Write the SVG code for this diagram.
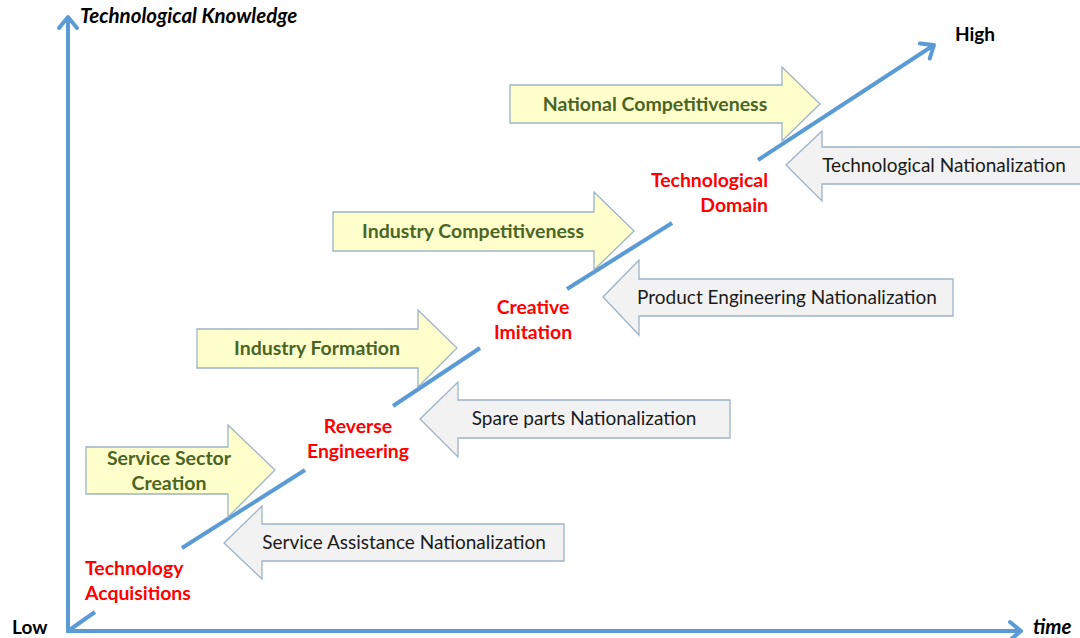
<svg xmlns="http://www.w3.org/2000/svg" width="1080" height="638" viewBox="0 0 1080 638">
<style>
.ax{stroke:#5B9BD5;stroke-width:4;fill:none;stroke-linecap:butt}
.yel{fill:#FFFFCC;stroke:#9DB2C9;stroke-width:1.3}
.gry{fill:#F2F2F2;stroke:#9DB2C9;stroke-width:1.3}
.g{font-family:Lato,"Liberation Sans",sans-serif;font-weight:bold;font-size:19.5px;fill:#4A6524;text-anchor:middle}
.k{font-family:Lato,"Liberation Sans",sans-serif;font-size:19px;fill:#1a1a1a;text-anchor:middle}
.r{font-family:Lato,"Liberation Sans",sans-serif;font-weight:bold;font-size:19.4px;fill:#FF0000}
.b{font-family:Lato,"Liberation Sans",sans-serif;font-weight:bold;font-size:19px;fill:#000}
.bi{font-family:Lato,"Liberation Sans",sans-serif;font-weight:bold;font-style:italic;font-size:20.5px;fill:#000}
</style>
<defs>
<marker id="ah" markerUnits="userSpaceOnUse" markerWidth="30" markerHeight="30" refX="0" refY="0" viewBox="-16 -15 20 30" orient="auto" overflow="visible">
<path d="M-11,-9 L0,0 L-11,9" fill="none" stroke="#5B9BD5" stroke-width="4" stroke-linecap="round" stroke-linejoin="round"/>
</marker>
</defs>
<g id="connectors">
<line class="ax" x1="68" y1="633" x2="68" y2="17" marker-end="url(#ah)"/>
<line class="ax" x1="66" y1="631" x2="1021" y2="631" marker-end="url(#ah)"/>
<line class="ax" x1="68" y1="631" x2="95" y2="612"/>
<line class="ax" x1="182" y1="548" x2="305" y2="470"/>
<line class="ax" x1="393" y1="406" x2="480" y2="348"/>
<line class="ax" x1="567" y1="289" x2="672" y2="223"/>
<line class="ax" x1="758" y1="160" x2="934" y2="45" marker-end="url(#ah)"/>
</g>
<g id="national-competitiveness">
<polygon class="yel" points="510,85 782,85 782,67 820,104 782,141 782,123 510,123"/>
<text class="g" x="655" y="111">National Competitiveness</text>
</g>
<g id="industry-competitiveness">
<polygon class="yel" points="333,212 594,212 594,192 634,231 594,270 594,251 333,251"/>
<text class="g" x="473" y="238">Industry Competitiveness</text>
</g>
<g id="industry-formation">
<polygon class="yel" points="197,329 418,329 418,310 457,348 418,387 418,368 197,368"/>
<text class="g" x="317" y="355">Industry Formation</text>
</g>
<g id="service-sector-creation">
<polygon class="yel" points="86,447 228,447 228,425 275,470 228,517 228,494 86,494"/>
<text class="g" x="169" y="465">Service Sector</text>
<text class="g" x="169" y="490">Creation</text>
</g>
<g id="technological-nationalization">
<polygon class="gry" points="786,165 822,131 822,147 1086,147 1086,184 822,184 822,201"/>
<text class="k" x="944" y="172">Technological Nationalization</text>
</g>
<g id="product-engineering-nationalization">
<polygon class="gry" points="603,297 639,260 639,279 953,279 953,316 639,316 639,335"/>
<text class="k" x="787" y="304">Product Engineering Nationalization</text>
</g>
<g id="spare-parts-nationalization">
<polygon class="gry" points="420,419 458,382 458,400 730,400 730,438 458,438 458,457"/>
<text class="k" x="584" y="425">Spare parts Nationalization</text>
</g>
<g id="service-assistance-nationalization">
<polygon class="gry" points="224,543 262,506 262,524 564,524 564,561 262,561 262,579"/>
<text class="k" x="404" y="549">Service Assistance Nationalization</text>
</g>
<g id="technological-domain">
<text class="r" x="768" y="187" text-anchor="end">Technological</text>
<text class="r" x="768" y="212" text-anchor="end">Domain</text>
</g>
<g id="creative-imitation">
<text class="r" x="533" y="314" text-anchor="middle">Creative</text>
<text class="r" x="533" y="339" text-anchor="middle">Imitation</text>
</g>
<g id="reverse-engineering">
<text class="r" x="358" y="433" text-anchor="middle">Reverse</text>
<text class="r" x="358" y="458" text-anchor="middle">Engineering</text>
</g>
<g id="technology-acquisitions">
<text class="r" x="85" y="575">Technology</text>
<text class="r" x="85" y="600">Acquisitions</text>
</g>
<g id="axis-labels">
<text class="bi" x="80" y="23">Technological Knowledge</text>
<text class="b" x="955" y="41">High</text>
<text class="b" x="12" y="634">Low</text>
<text class="bi" x="1033" y="634">time</text>
</g>
</svg>
